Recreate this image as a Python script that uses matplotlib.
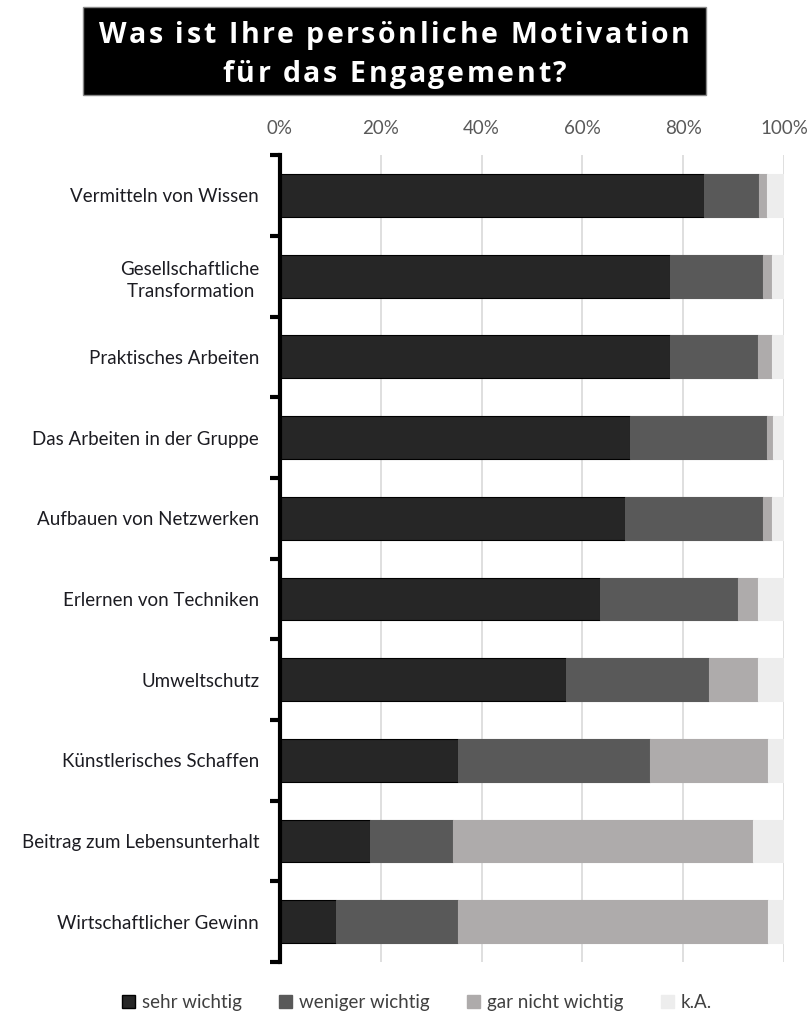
import matplotlib
matplotlib.use("Agg")
import matplotlib.pyplot as plt
from matplotlib.patches import Patch, Rectangle
from matplotlib.ticker import PercentFormatter, FixedLocator
import numpy as np

# data (shares in %)
categories = [
    "Vermitteln von Wissen",
    "Gesellschaftliche\nTransformation ",
    "Praktisches Arbeiten",
    "Das Arbeiten in der Gruppe",
    "Aufbauen von Netzwerken",
    "Erlernen von Techniken",
    "Umweltschutz",
    "Künstlerisches Schaffen",
    "Beitrag zum Lebensunterhalt",
    "Wirtschaftlicher Gewinn",
]
sehr_wichtig = [84.2, 77.4, 77.4, 69.4, 68.5, 63.6, 56.8, 35.4, 17.9, 11.1]
weniger_wichtig = [10.8, 18.5, 17.5, 27.3, 27.4, 27.3, 28.3, 38.0, 16.5, 24.3]
gar_nicht_wichtig = [1.7, 1.8, 2.8, 1.2, 1.8, 4.0, 9.8, 23.5, 59.5, 61.5]
k_a = [3.3, 2.3, 2.3, 2.1, 2.3, 5.1, 5.1, 3.1, 6.1, 3.1]

title_lines = ["Was ist Ihre persönliche Motivation", "für das Engagement?"]

series = [
    ("sehr wichtig", sehr_wichtig, "#262626"),
    ("weniger wichtig", weniger_wichtig, "#595959"),
    ("gar nicht wichtig", gar_nicht_wichtig, "#AEABAB"),
    ("k.A.", k_a, "#EDEDED"),
]

title_font = "Open Sans"
label_font = "Lato"
text_col = "#1c1c22"

W, H = 808, 1014
fig = plt.figure(figsize=(W / 100, H / 100), dpi=100)
ax = fig.add_axes([0.3465, 0.0513, 0.6237, 0.7957])

y = np.arange(len(categories))
left = np.zeros(len(categories))
for name, vals, col in series:
    vals = np.array(vals)
    ec = "#000000" if name == "sehr wichtig" else col
    ax.barh(y, vals, left=left, height=0.53, color=col, edgecolor=ec,
            linewidth=0.8, label=name, zorder=3)
    left += vals

ax.set_xlim(0, 100)
ax.set_ylim(len(categories) - 0.5, -0.5)

# percent ticks on top
ax.xaxis.tick_top()
ax.set_xticks(np.arange(0, 101, 20))
ax.xaxis.set_major_formatter(PercentFormatter(decimals=0))
ax.tick_params(axis="x", length=0, pad=13, labelsize=13.5, labelcolor="#595959")
for t in ax.get_xticklabels():
    t.set_fontfamily(label_font)
ax.grid(axis="x", color="#D9D9D9", linewidth=1.2, zorder=0)

# category labels, bracket-like ticks at the boundaries
ax.set_yticks(y)
ax.set_yticklabels(categories, fontfamily=label_font, fontsize=13.5, color=text_col,
                   linespacing=1.35)
ax.yaxis.set_minor_locator(FixedLocator(np.arange(-0.5, len(categories), 1)))
ax.tick_params(axis="y", which="major", length=0, pad=15)
ax.tick_params(axis="y", which="minor", length=7, width=3, color="black")

for s in ["top", "right", "bottom"]:
    ax.spines[s].set_visible(False)
ax.spines["left"].set_linewidth(3)
ax.spines["left"].set_color("black")
ax.spines["left"].set_zorder(5)

# title: black box, white bold letter-spaced text
fig.patches.append(Rectangle((83 / W, 1 - 95 / H), (706 - 83) / W, 88 / H,
                             transform=fig.transFigure, facecolor="black",
                             edgecolor="#888888", linewidth=1))
renderer = fig.canvas.get_renderer()
title_kw = dict(color="white", fontsize=20.5, fontweight="bold", fontfamily=title_font)


def text_width(s):
    t = fig.text(0, 0, s, **title_kw)
    w = t.get_window_extent(renderer).width
    t.remove()
    return w


track = 2.6
base_aa = text_width("aa")
for line, baseline in zip(title_lines, [43, 82]):
    widths = [text_width("a" + ch + "a") - base_aa for ch in line]
    total = sum(widths) + track * (len(line) - 1)
    x = 394.5 - total / 2
    for ch, w in zip(line, widths):
        if ch != " ":
            fig.text(x / W, 1 - baseline / H, ch, ha="left", va="baseline", **title_kw)
        x += w + track

# legend
handles = [Patch(facecolor=c, edgecolor=("#000000" if n == "sehr wichtig" else c), label=n)
           for n, _, c in series]
fig.legend(handles=handles, loc="center", bbox_to_anchor=(0.516, 0.011), ncol=4,
           frameon=False, prop={"family": label_font, "size": 13.5},
           labelcolor="#404040", handlelength=0.7, handleheight=0.7,
           handletextpad=0.35, columnspacing=2.0)

fig.savefig("out.png", dpi=100)
